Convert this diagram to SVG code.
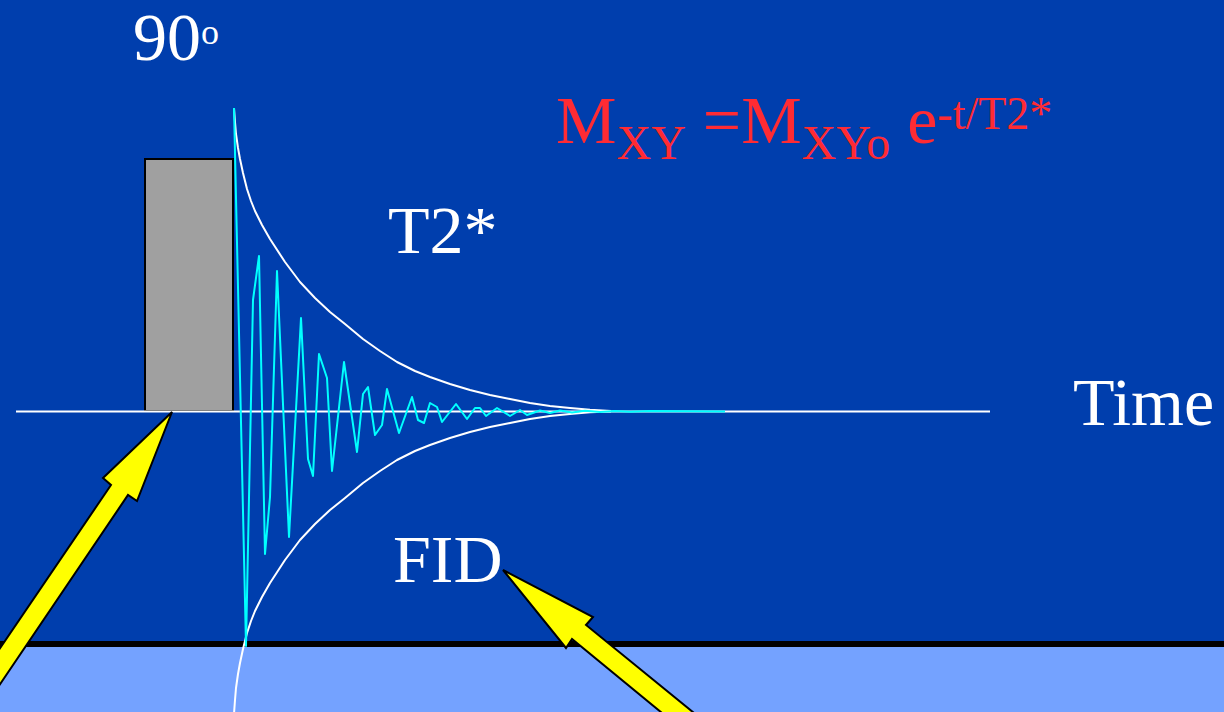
<svg xmlns="http://www.w3.org/2000/svg" width="1224" height="712" viewBox="0 0 1224 712">
  <style>
    .lbl { font-family: "Liberation Serif", "Times New Roman", serif; fill: #FFFFFF; font-size: 68px; }
    .eq { font-family: "Liberation Serif", "Times New Roman", serif; fill: #FF2B33; font-size: 68px; white-space: pre; }
    .env { fill: none; stroke: #FFFFFF; stroke-width: 2; stroke-linejoin: round; }
    .fid { fill: none; stroke: #00FFFF; stroke-width: 2; stroke-linejoin: round; }
    .arrow { fill: #FFFF00; stroke: #000000; stroke-width: 2; stroke-linejoin: miter; }
  </style>
  <g id="background">
    <rect x="0" y="0" width="1224" height="712" fill="#003EAD"/>
    <rect x="0" y="644" width="1224" height="68" fill="#74A2FF"/>
    <rect x="0" y="641" width="1224" height="6" fill="#000000"/>
  </g>
  <g id="pulse">
    <rect x="145" y="159" width="88" height="252" fill="#A0A0A0" stroke="#000000" stroke-width="2"/>
  </g>
  <g id="axis">
    <line x1="16" y1="411.5" x2="990" y2="411.5" stroke="#FFFFFF" stroke-width="2"/>
  </g>
  <g id="envelope">
    <polyline class="env" points="234,108 235,122 236,134 238,148 240,159 243,173 247,189 251,201 255,211 262,225 270,239 285,262 300,282 315,298 330,312 345,324 363,339 380,351 397,362 415,371 430,377 450,384 470,390 490,395 510,399 530,403 550,406 570,408 590,409.7 611,411"/>
    <polyline class="env" points="234,714 235,700 236,688 238,674 240,663 243,649 247,633 251,621 255,611 262,597 270,583 285,560 300,540 315,524 330,510 345,498 363,483 380,471 397,460 415,451 430,445 450,438 470,432 490,427 510,423 530,419 550,416 570,414 590,412.3 611,411.5"/>
  </g>
  <g id="fid-signal">
    <polyline class="fid" points="234,108 246,646 253,300 259,256 265,554 270,497 277,271 289,537 301,318 308,459 313,476 319,354 327,378 332,471 344,362 357,452 363,394 368,387 375,435 382,425 387,389 399,433 412,397 418,420 424,423 430,403 437,407 442,422 456,404 467,419 475,408 480,408 486,416 497,408 510,416 520,410 527,415 540,410.5 550,413 560,410.5 572,412.5 585,410.8 600,412 615,411 630,411.8 650,411 725,411.5"/>
  </g>
  <g id="labels">
    <text class="lbl" x="133" y="60">90<tspan font-size="36" y="44">o</tspan></text>
    <text class="lbl" x="388" y="253">T2*</text>
    <text class="lbl" x="393" y="582">FID</text>
    <text class="lbl" x="1073" y="425">Time</text>
    <text class="eq" x="556" y="143">M<tspan font-size="48" y="159">XY</tspan><tspan y="143"> =M</tspan><tspan font-size="48" y="159">XYo</tspan><tspan y="143"> e</tspan><tspan font-size="46" y="129">-t/T2*</tspan></text>
  </g>
  <g id="connectors">
    <polygon class="arrow" points="172,412 137,501 128,495 -10,699 -10,663 111,485 103,478"/>
    <polygon class="arrow" points="503,570 593,617 586,625 710,726 690,736 572,639 566,648"/>
  </g>
</svg>
